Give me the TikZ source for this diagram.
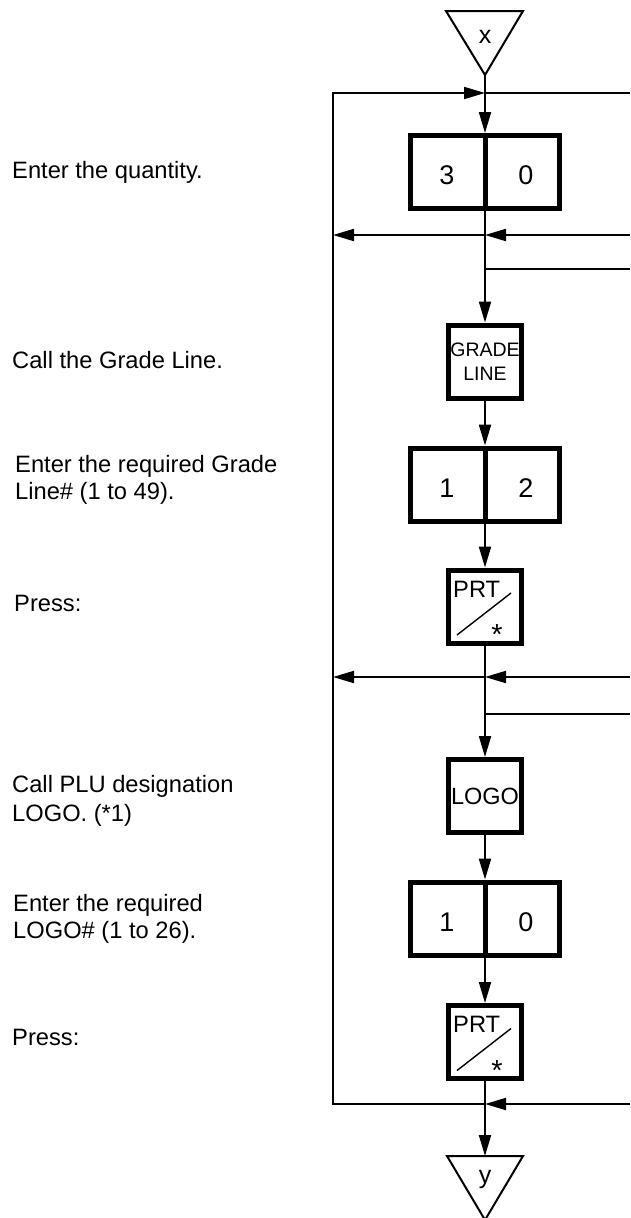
\documentclass[tikz,border=0pt]{standalone}
\usepackage{fontspec}
\setmainfont{Liberation Sans}
\usetikzlibrary{arrows.meta,calc}
\newcommand{\prtdeco}[1]{%
  \node[font=\fontsize{23.7}{27}\selectfont, anchor=base west, inner sep=0pt] (#1-lbl) at ($(#1.center)+(-32,-9.5)$) {PRT};
  \draw[line width=1.4pt] ($(#1.center)+(-28,28.5)$) -- ($(#1.center)+(26,-13.5)$);
  \node[font=\fontsize{29}{30}\selectfont, anchor=base, inner sep=0pt] (#1-star) at ($(#1.center)+(12,38)$) {*};
}
\begin{document}
\begin{tikzpicture}[x=1pt,y=-1pt,
  keybox/.style={draw, line width=5pt, inner sep=0pt, minimum width=73pt, minimum height=73pt},
  splitkey/.style={draw, line width=5pt, inner sep=0pt, minimum width=149pt, minimum height=73pt},
  flow/.style={line width=2pt},
  arr/.style={flow, -{Triangle[length=21pt,width=12pt]}},
  lbl/.style={anchor=base west, inner sep=0pt, font=\fontsize{23.7}{27}\selectfont},
  digit/.style={anchor=base, inner sep=0pt, font=\fontsize{27}{30}\selectfont},
  trilbl/.style={anchor=base, inner sep=0pt, font=\fontsize{25}{28}\selectfont}
]
\useasboundingbox (0,0) rectangle (630,1218);

% left descriptions
\node[lbl] (t1) at (12,178) {Enter the quantity.};
\node[lbl] (t2) at (12,368) {Call the Grade Line.};
\node[lbl] (t3a) at (15,472) {Enter the required Grade};
\node[lbl] (t3b) at (15,499) {Line\# (1 to 49).};
\node[lbl] (t4) at (14,611) {Press:};
\node[lbl] (t5a) at (12,792) {Call PLU designation};
\node[lbl] (t5b) at (12,821) {LOGO. (*1)};
\node[lbl] (t6a) at (13,911) {Enter the required};
\node[lbl] (t6b) at (13,938) {LOGO\# (1 to 26).};
\node[lbl] (t7) at (12,1045) {Press:};

% start / end triangles
\draw[flow, line join=miter] (446,11) -- (523,11) -- (485,75) -- cycle;
\node[trilbl] (tx) at (485,43) {x};
\coordinate (txa) at (485,75);
\draw[flow, line join=miter] (447,1156) -- (523,1156) -- (485,1220) -- cycle;
\node[trilbl] (ty) at (485,1183) {y};
\coordinate (tyt) at (485,1156);

% keys
\node[splitkey] (k30) at (485,172) {};
\draw[line width=5pt] (k30.north) -- (k30.south);
\node[digit] (k30a) at ($(k30.center)+(-38,12.5)$) {3};
\node[digit] (k30b) at ($(k30.center)+(41,12.5)$) {0};

\node[keybox, align=center, font=\fontsize{19.5}{24}\selectfont] (gl) at (485,361.5) {GRADE\\LINE};

\node[splitkey] (k12) at (485,484.5) {};
\draw[line width=5pt] (k12.north) -- (k12.south);
\node[digit] (k12a) at ($(k12.center)+(-38,12.5)$) {1};
\node[digit] (k12b) at ($(k12.center)+(41,12.5)$) {2};

\node[keybox] (p1) at (485,606.5) {};
\prtdeco{p1}

\node[keybox, font=\fontsize{23.5}{26}\selectfont] (logo) at (485,796) {LOGO};

\node[splitkey] (k10) at (485,918.5) {};
\draw[line width=5pt] (k10.north) -- (k10.south);
\node[digit] (k10a) at ($(k10.center)+(-38,12.5)$) {1};
\node[digit] (k10b) at ($(k10.center)+(41,12.5)$) {0};

\node[keybox] (p2) at (485,1042) {};
\prtdeco{p2}

% junction coordinates
\coordinate (j1) at (485,93);  \coordinate (L1) at (333,93);  \coordinate (R1) at (630,93);
\coordinate (j2) at (485,235); \coordinate (L2) at (333,235); \coordinate (R2) at (630,235);
\coordinate (j3) at (485,269); \coordinate (R3) at (630,269);
\coordinate (j4) at (485,677); \coordinate (L4) at (333,677); \coordinate (R4) at (630,677);
\coordinate (j5) at (485,714); \coordinate (R5) at (630,714);
\coordinate (j6) at (485,1104); \coordinate (L6) at (333,1104); \coordinate (R6) at (630,1104);

% main flow
\draw[arr] (txa) -- (k30.north);
\draw[arr] (k30.south) -- (gl.north);
\draw[arr] (gl.south) -- (k12.north);
\draw[arr] (k12.south) -- (p1.north);
\draw[arr] (p1.south) -- (logo.north);
\draw[arr] (logo.south) -- (k10.north);
\draw[arr] (k10.south) -- (p2.north);
\draw[arr] (p2.south) -- (tyt);

% loop and branches
\draw[arr] (j6) -- (L6) -- (L1) -- (j1);
\draw[flow] (j1) -- (R1);
\draw[arr] (R2) -- (j2);
\draw[arr] (j2) -- (L2);
\draw[flow] (j3) -- (R3);
\draw[arr] (R4) -- (j4);
\draw[arr] (j4) -- (L4);
\draw[flow] (j5) -- (R5);
\draw[arr] (R6) -- (j6);
\end{tikzpicture}
\end{document}
